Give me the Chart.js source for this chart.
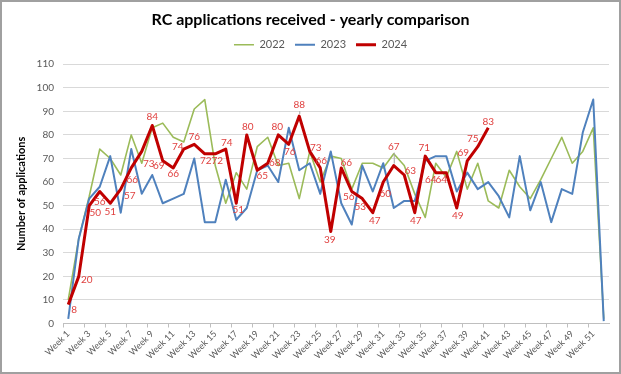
<!DOCTYPE html>
<html>
<head>
<meta charset="utf-8">
<script src="https://cdn.jsdelivr.net/npm/chart.js@4"></script>
<style>
  html, body { margin: 0; padding: 0; background: #fff; }
  #wrap { width: 621px; height: 374px; position: relative; }
</style>
</head>
<body>
<div id="wrap"><canvas id="rcChart"></canvas></div>
<script>
const weeks = [];
for (let w = 1; w <= 52; w++) weeks.push("Week " + w);

const years = ["2022", "2023", "2024"];

const apps2022 = [10, 36, 54, 74, 70, 63, 80, 68, 83, 85, 79, 77, 91, 95, 67, 51, 64, 57, 75, 79, 67, 68, 53, 73, 60, 71,
                  70, 57, 68, 68, 66, 72, 67, 55, 45, 68, 62, 73, 57, 68, 52, 49, 65, 58, 53, 61, 70, 79, 68, 73, 83, 2];
const apps2023 = [2, 36, 53, 58, 71, 47, 74, 55, 63, 51, 53, 55, 70, 43, 43, 61, 44, 49, 65, 67, 60, 83, 65, 68, 55, 73,
                  51, 42, 67, 56, 68, 49, 52, 52, 69, 71, 71, 56, 64, 57, 60, 54, 45, 71, 48, 60, 43, 57, 55, 81, 95, 1];
const apps2024 = [8, 20, 50, 56, 51, 57, 66, 73, 84, 69, 66, 74, 76, 72, 72, 74, 51, 80, 65, 68, 80, 76, 88, 73, 66, 39,
                  66, 56, 53, 47, 60, 67, 63, 47, 71, 64, 64, 49, 69, 75, 83];

const yTicks = { min: 0, max: 110, step: 10 };

// where each 2024 label sits relative to its point (dx, dy in px)
const labelOffsets = [
  [6, 5], [8, 3], [6, 7], [0, 10], [0, 9], [9, 7], [1, 12], [7, 12], [0, -9], [-4, 5],
  [0, 6], [-6, -2], [0, -8], [1, 7], [2, 7], [1, -6], [2, 7], [1, -8], [5, 6], [7, 0],
  [-1, -8], [1, 7], [0, -11], [6, -4], [1, -7], [-1, 8], [5, -5], [-3, 5], [-2, 8], [2, 8],
  [2, 12], [0, -19], [6, -4], [1, 8], [-1, -8], [-5, 7], [-5, 7], [1, 8], [-4, -8], [-5, -8],
  [0, -6]
];

const colors = { y2022: "#9bbb59", y2023: "#4f81bd", y2024: "#c00000", label: "#e0403f" };

const FONT = "Lato, 'Open Sans', sans-serif";

// draws the red value labels next to the 2024 points
const pointLabels = {
  id: "pointLabels",
  afterDatasetsDraw(chart) {
    const meta = chart.getDatasetMeta(2);
    const ctx = chart.ctx;
    ctx.save();
    ctx.font = "10px " + FONT;
    ctx.fillStyle = colors.label;
    ctx.textAlign = "center";
    ctx.textBaseline = "middle";
    meta.data.forEach((pt, i) => {
      const off = labelOffsets[i] || [0, -8];
      const x = pt.x + off[0];
      const y = pt.y + off[1];
      if (off[1] <= -10) {
        ctx.strokeStyle = "#a6a6a6";
        ctx.lineWidth = 1;
        ctx.beginPath();
        ctx.moveTo(pt.x + 0.5, pt.y - 2);
        ctx.lineTo(pt.x + 0.5, y + 6);
        ctx.stroke();
      }
      ctx.fillText(String(apps2024[i]), x, y);
    });
    ctx.restore();
  }
};

// nudge title and legend to where they sit in the original
const nudge = {
  id: "nudge",
  afterLayout(chart) {
    const lg = chart.legend;
    lg.left += 15; lg.right += 15;
    lg.top -= 4; lg.bottom -= 4;
    const tb = chart.titleBlock;
    tb.left += 5; tb.right += 5;
  }
};

const frame = {
  id: "frame",
  afterDraw(chart) {
    const ctx = chart.ctx;
    ctx.save();
    ctx.strokeStyle = "#a0a0a0";
    ctx.lineWidth = 2;
    ctx.strokeRect(1, 1, chart.width - 2, chart.height - 2);
    ctx.restore();
  }
};

new Chart(document.getElementById("rcChart"), {
  type: "line",
  data: {
    labels: weeks,
    datasets: [
      { label: years[0], data: apps2022, borderColor: colors.y2022, backgroundColor: colors.y2022, borderWidth: 1.6, order: 3 },
      { label: years[1], data: apps2023, borderColor: colors.y2023, backgroundColor: colors.y2023, borderWidth: 2, order: 2 },
      { label: years[2], data: apps2024, borderColor: colors.y2024, backgroundColor: colors.y2024, borderWidth: 3, order: 1 }
    ]
  },
  options: {
    responsive: true,
    maintainAspectRatio: false,
    animation: false,
    elements: {
      point: { radius: 0, hoverRadius: 0 },
      line: { tension: 0, borderJoinStyle: "round" }
    },
    layout: { padding: { left: 2, right: 12, top: 2, bottom: 2 } },
    plugins: {
      tooltip: { enabled: false },
      title: {
        display: true,
        text: "RC applications received - yearly comparison",
        color: "#000",
        font: { family: FONT, size: 16, weight: "bold" },
        padding: { top: 8, bottom: 4 }
      },
      legend: {
        position: "top",
        labels: {
          usePointStyle: true,
          pointStyle: "line",
          pointStyleWidth: 20,
          color: "#595959",
          font: { family: FONT, size: 11 },
          padding: 10,
          sort: (a, b) => a.datasetIndex - b.datasetIndex
        }
      }
    },
    scales: {
      x: {
        offset: true,
        grid: {
          offset: true,
          drawOnChartArea: false,
          drawTicks: true,
          tickLength: 4,
          color: (c) => (c.index % 2 === 0 ? "#bfbfbf" : "rgba(0,0,0,0)")
        },
        border: { display: true, color: "#bfbfbf" },
        ticks: {
          autoSkip: false,
          minRotation: 45,
          maxRotation: 45,
          padding: 1,
          color: "#595959",
          font: { family: FONT, size: 9 },
          callback: function (v, i) { return i % 2 === 0 ? this.getLabelForValue(v) : ""; }
        },
        afterFit: (s) => { s.height = 48.5; }
      },
      y: {
        min: yTicks.min,
        max: yTicks.max,
        grid: { color: "#d9d9d9", drawTicks: false },
        border: { display: false },
        ticks: {
          stepSize: yTicks.step,
          padding: 9,
          color: "#595959",
          font: { family: FONT, size: 10 }
        },
        title: {
          display: true,
          text: "Number of applications",
          color: "#000",
          font: { family: FONT, size: 11, weight: "bold" },
          padding: { top: 13, bottom: 0 }
        },
        afterFit: (s) => { s.width = 61; }
      }
    }
  },
  plugins: [pointLabels, nudge, frame]
});
</script>
</body>
</html>
